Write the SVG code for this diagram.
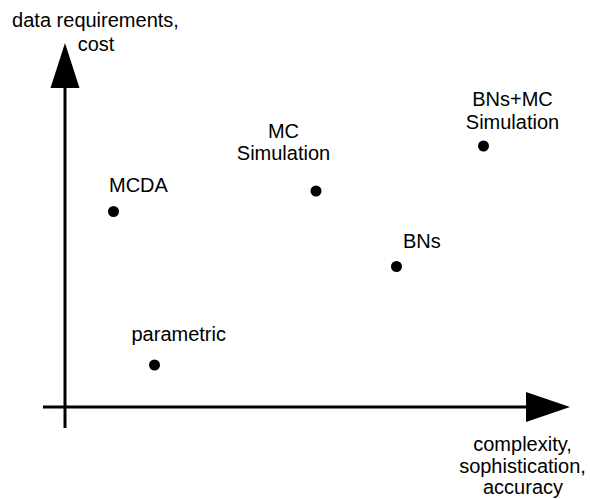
<svg xmlns="http://www.w3.org/2000/svg" width="590" height="499" viewBox="0 0 590 499">
<style>
text{font-family:"Liberation Sans",Arial,sans-serif;font-size:20px;fill:#000}
.c{text-anchor:middle}
.axis{stroke:#000;stroke-width:3;fill:none}
.dot{fill:#000}
</style>
<rect width="590" height="499" fill="#fff"/>
<g id="connectors">
<line class="axis" x1="65" y1="428" x2="65" y2="86"/>
<polygon points="65,43 50.5,88 79.5,88" fill="#000"/>
<line class="axis" x1="43" y1="407" x2="528" y2="407"/>
<polygon points="570,407 526,392 526,422" fill="#000"/>
</g>
<g id="y-label"><text class="c" x="95.5" y="27">data requirements,</text><text class="c" x="96" y="51">cost</text></g>
<g id="x-label"><text class="c" x="522.5" y="451">complexity,</text><text class="c" x="522.5" y="473">sophistication,</text><text class="c" x="523" y="494">accuracy</text></g>
<g id="mcda"><circle class="dot" cx="113.5" cy="211.5" r="5.5"/><text x="109" y="192">MCDA</text></g>
<g id="mc-sim"><circle class="dot" cx="316" cy="191" r="5.5"/><text class="c" x="283.5" y="138">MC</text><text class="c" x="283.5" y="160">Simulation</text></g>
<g id="bns-mc"><circle class="dot" cx="483.5" cy="146" r="5.5"/><text class="c" x="512.5" y="106">BNs+MC</text><text class="c" x="512.5" y="128.5">Simulation</text></g>
<g id="bns"><circle class="dot" cx="396.5" cy="266.5" r="5.5"/><text x="403" y="248">BNs</text></g>
<g id="parametric"><circle class="dot" cx="154.5" cy="365" r="5.5"/><text x="131.5" y="341">parametric</text></g>
</svg>
